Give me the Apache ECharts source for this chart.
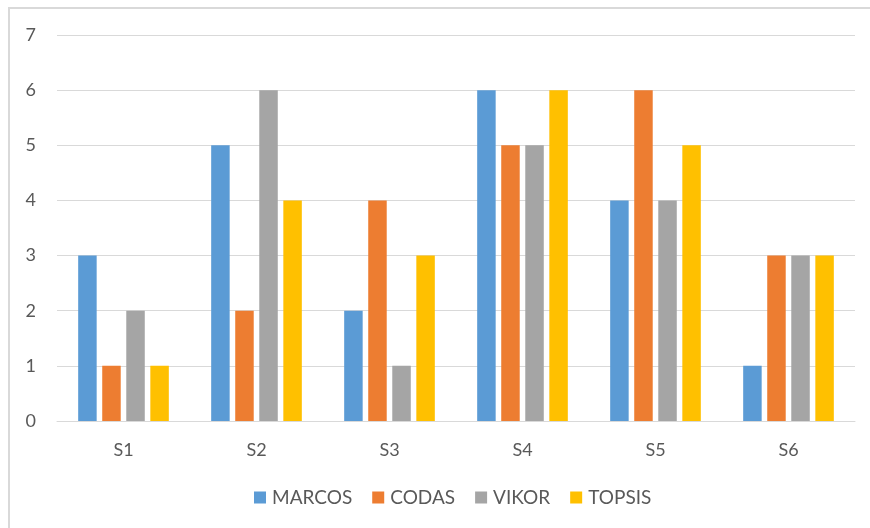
<!DOCTYPE html>
<html>
<head>
<meta charset="utf-8">
<script src="https://cdn.jsdelivr.net/npm/echarts@6/dist/echarts.min.js"></script>
<style>
html,body{margin:0;padding:0;background:#fff;}
#chart{width:870px;height:528px;}
</style>
</head>
<body>
<div id="chart"></div>
<script>
const categories = ['S1','S2','S3','S4','S5','S6'];
const marcos = [3,5,2,6,4,1];
const codas  = [1,2,4,5,6,3];
const vikor  = [2,6,1,5,4,3];
const topsis = [1,4,3,6,5,3];
const seriesNames = ['MARCOS','CODAS','VIKOR','TOPSIS'];
const colors = ['#5B9BD5','#ED7D31','#A5A5A5','#FFC000'];
const yTicks = [0,1,2,3,4,5,6,7];

const font = 'Lato, "Open Sans", sans-serif';
const chart = echarts.init(document.getElementById('chart'));
const values = [marcos, codas, vikor, topsis];
chart.setOption({
  animation: false,
  backgroundColor: '#ffffff',
  color: colors,
  graphic: [{
    type: 'rect',
    shape: {x: 9, y: 8, width: 900, height: 600},
    style: {fill: 'none', stroke: '#d9d9d9', lineWidth: 2},
    silent: true
  }],
  grid: {left: 57, right: 15, top: 35, bottom: 107, containLabel: false},
  legend: {
    data: seriesNames,
    left: 254,
    top: 488,
    padding: 0,
    itemWidth: 12,
    itemHeight: 12,
    itemGap: 20,
    icon: 'rect',
    textStyle: {color: '#595959', fontSize: 19, fontFamily: font, padding: [0,0,0,1]}
  },
  xAxis: {
    type: 'category',
    data: categories,
    axisLine: {lineStyle: {color: '#d9d9d9', width: 1}},
    axisTick: {show: false},
    axisLabel: {color: '#595959', fontSize: 18, fontFamily: font, margin: 20}
  },
  yAxis: {
    type: 'value',
    min: yTicks[0],
    max: yTicks[yTicks.length-1],
    interval: 1,
    axisLine: {show: false},
    axisTick: {show: false},
    splitLine: {lineStyle: {color: '#d9d9d9', width: 1}},
    axisLabel: {color: '#595959', fontSize: 18, fontFamily: font, margin: 21}
  },
  series: seriesNames.map((n, i) => ({
    name: n,
    type: 'bar',
    data: values[i],
    barWidth: 18.5,
    barGap: '30%',
    itemStyle: {color: colors[i]}
  }))
});
</script>
</body>
</html>
